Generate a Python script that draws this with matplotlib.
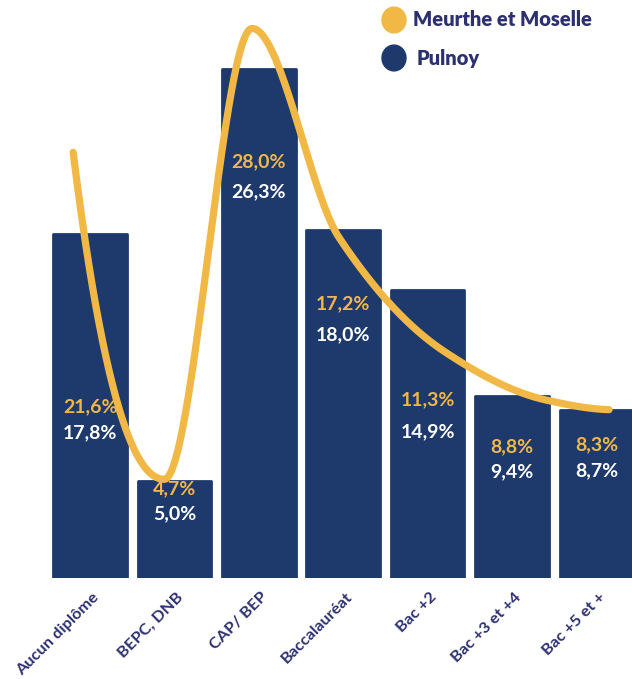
import numpy as np
import matplotlib
matplotlib.use("Agg")
import matplotlib.pyplot as plt
from matplotlib.patches import Circle

categories = ["Aucun diplôme", "BEPC, DNB", "CAP/ BEP", "Baccalauréat", "Bac +2", "Bac +3 et +4", "Bac +5 et +"]
pulnoy = [17.8, 5.0, 26.3, 18.0, 14.9, 9.4, 8.7]
meurthe = [21.6, 4.7, 28.0, 17.2, 11.3, 8.8, 8.3]
pulnoy_labels = ["17,8%", "5,0%", "26,3%", "18,0%", "14,9%", "9,4%", "8,7%"]
meurthe_labels = ["21,6%", "4,7%", "28,0%", "17,2%", "11,3%", "8,8%", "8,3%"]

# layout: horizontal offsets of the curve knots relative to bar centres,
# and a small vertical lift of the decorative curve (as in the original design)
curve_dx = [-0.2, -0.12, -0.08, -0.05, 0.2, 0.4, 0.15]
curve_lift = 0.4
# layout: label baselines in pixels from top (yellow, white)
lab_y_yellow_px = [412, 494, 167, 309, 405, 452, 450]
lab_y_white_px = [438, 519, 197, 340, 437, 477, 476]

NAVY = "#1e3a6d"
YELLOW = "#f2b846"
TXT = "#2d3070"
FONT = ["Lato", "DejaVu Sans"]

W, H = 632, 679
fig = plt.figure(figsize=(W / 100, H / 100), dpi=100)
base_px = 578
px_per_unit = 19.35
ax = fig.add_axes([0, (H - base_px) / H, 1, base_px / H])
x0, step = 90, 84.4
ax.set_xlim((0 - x0) / step, (W - x0) / step)
ax.set_ylim(0, base_px / px_per_unit)
ax.axis("off")

x = np.arange(len(categories))
ax.bar(x, pulnoy, width=0.87, color=NAVY, edgecolor=NAVY, linewidth=2,
       joinstyle="round", zorder=1)


def pchip(xk, yk, xs):
    xk = np.asarray(xk, float); yk = np.asarray(yk, float)
    h = np.diff(xk); delta = np.diff(yk) / h
    n = len(xk)
    d = np.zeros(n)
    for k in range(1, n - 1):
        if delta[k - 1] * delta[k] <= 0:
            d[k] = 0
        else:
            w1 = 2 * h[k] + h[k - 1]; w2 = h[k] + 2 * h[k - 1]
            d[k] = (w1 + w2) / (w1 / delta[k - 1] + w2 / delta[k])
    def end(h0, h1, d0, d1):
        dd = ((2 * h0 + h1) * d0 - h0 * d1) / (h0 + h1)
        if np.sign(dd) != np.sign(d0):
            dd = 0
        elif np.sign(d0) != np.sign(d1) and abs(dd) > abs(3 * d0):
            dd = 3 * d0
        return dd
    d[0] = end(h[0], h[1], delta[0], delta[1])
    d[-1] = end(h[-1], h[-2], delta[-1], delta[-2])
    ys = np.empty_like(xs)
    for j, xv in enumerate(xs):
        i = int(np.clip(np.searchsorted(xk, xv) - 1, 0, n - 2))
        t = (xv - xk[i]) / h[i]
        h00 = 2 * t**3 - 3 * t**2 + 1; h10 = t**3 - 2 * t**2 + t
        h01 = -2 * t**3 + 3 * t**2; h11 = t**3 - t**2
        ys[j] = h00 * yk[i] + h10 * h[i] * d[i] + h01 * yk[i + 1] + h11 * h[i] * d[i + 1]
    return ys

xk = x + np.array(curve_dx)
xs = np.linspace(xk[0], xk[-1], 800)
ys = pchip(xk, np.array(meurthe) + curve_lift, xs)
ax.plot(xs, ys, color=YELLOW, linewidth=5.2, solid_capstyle="round", zorder=2)


def py(px):
    return (base_px - px) / px_per_unit

for i in range(len(categories)):
    ax.text(x[i], py(lab_y_yellow_px[i]), meurthe_labels[i], color=YELLOW,
            fontsize=14, fontweight="bold", family=FONT, ha="center", va="baseline", zorder=3)
    ax.text(x[i], py(lab_y_white_px[i]), pulnoy_labels[i], color="white",
            fontsize=14, fontweight="bold", family=FONT, ha="center", va="baseline", zorder=3)

# category labels
for i, c in enumerate(categories):
    xp = (x0 + step * i + 2) / W
    fig.text(xp, (H - 590) / H, c, rotation=45, rotation_mode="anchor",
             ha="right", va="top", fontsize=11.8, fontweight="bold", color=TXT, family=FONT)

# legend
fig.patches.append(Circle((394 / W, 1 - 20 / H), 12 / W, transform=fig.transFigure,
                          color=YELLOW))
fig.patches.append(Circle((394 / W, 1 - 58 / H), 12 / W, transform=fig.transFigure,
                          color=NAVY))
fig.text(413 / W, 1 - 20 / H, "Meurthe et Moselle", fontsize=14.5, fontweight="heavy",
         color=TXT, family=FONT, va="center", ha="left")
fig.text(417 / W, 1 - 58 / H, "Pulnoy", fontsize=14.5, fontweight="heavy",
         color=TXT, family=FONT, va="center", ha="left")

fig.savefig("out.png", dpi=100)
